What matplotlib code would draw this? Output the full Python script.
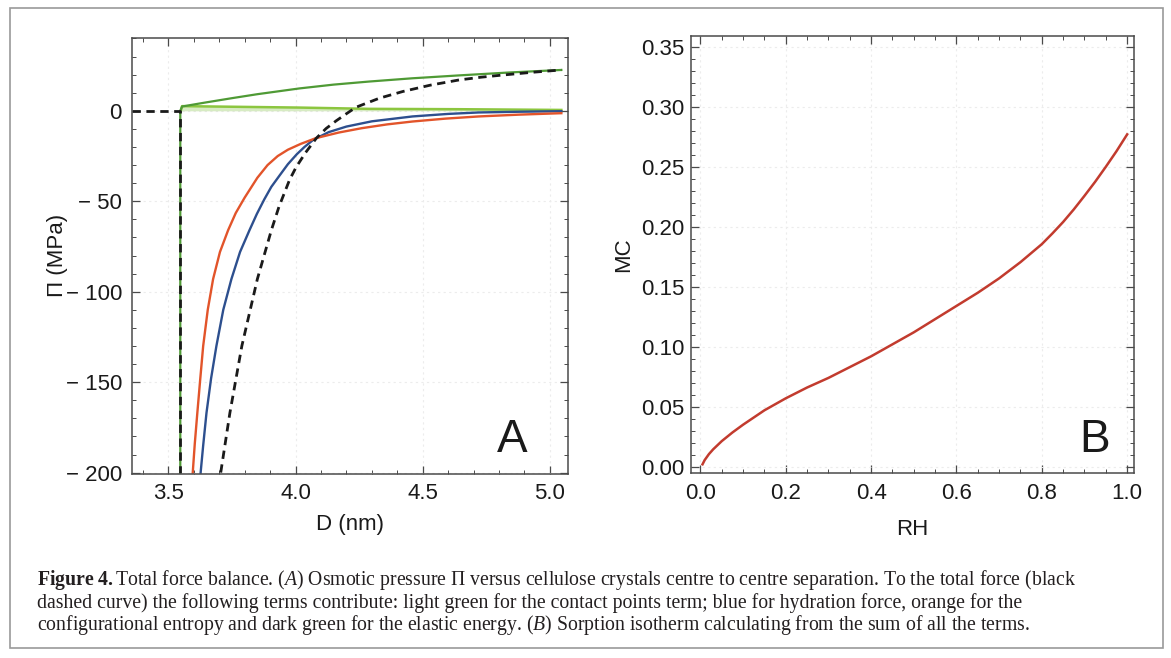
import numpy as np
import matplotlib
matplotlib.use("Agg")
import matplotlib.pyplot as plt
from matplotlib.ticker import MultipleLocator, FixedLocator, FuncFormatter
from matplotlib.patches import Rectangle

# ---------------- data (panel A) ----------------
hyd_D = [3.627, 3.637, 3.650, 3.668, 3.689, 3.716, 3.748, 3.782, 3.819, 3.848, 3.877, 3.905,
         3.936, 3.970, 4.005, 4.035, 4.070, 4.130, 4.200, 4.300, 4.460, 4.600, 4.720, 4.880, 5.045]
hyd_P = [-200, -185, -167, -148, -130, -110, -93, -78, -66, -57, -49, -42,
         -36, -29.5, -24, -20, -16, -11.8, -8.7, -5.8, -3.1, -1.7, -0.9, -0.5, -0.2]

ent_D = [3.596, 3.604, 3.614, 3.625, 3.637, 3.655, 3.676, 3.703, 3.735, 3.765, 3.800, 3.850,
         3.890, 3.930, 3.970, 4.020, 4.080, 4.170, 4.260, 4.360, 4.460, 4.590, 4.720, 4.880, 5.045]
ent_P = [-200, -184, -167, -149, -130, -110, -93, -78, -66, -56.5, -48, -37,
         -30, -25, -21.5, -18.3, -15.1, -12, -9.6, -7.5, -5.9, -4.3, -3.1, -2.1, -1.3]

tot_left_D = [3.356, 3.547, 3.547]
tot_left_P = [0, 0, -200]
tot_D = [3.706, 3.742, 3.789, 3.850, 3.905, 3.935, 3.977, 4.003, 4.040, 4.082, 4.120, 4.160,
         4.200, 4.238, 4.330, 4.422, 4.530, 4.644, 4.730, 4.815, 4.930, 5.045]
tot_P = [-200, -167, -130, -93, -66, -53, -38, -31, -23, -15.1, -9.8, -5.5,
         -1.6, 2.0, 7.0, 10.7, 14.2, 17.1, 18.6, 19.8, 21.3, 22.6]

ela_D = [3.547, 3.547, 3.554, 3.650, 3.750, 3.850, 4.016, 4.150, 4.290, 4.460, 4.644, 4.840, 5.045]
ela_P = [-200, 0, 2.4, 4.7, 7.0, 9.2, 12.4, 14.5, 16.2, 18.0, 19.6, 21.2, 22.6]

con_D = [3.549, 3.554, 4.016, 4.290, 4.644, 5.045]
con_P = [0, 2.6, 1.8, 1.1, 0.9, 0.5]

# ---------------- data (panel B) ----------------
RH = [0.005, 0.01, 0.02, 0.03, 0.05, 0.075, 0.1, 0.15, 0.2, 0.25, 0.3, 0.35, 0.4, 0.45, 0.5,
      0.55, 0.6, 0.65, 0.7, 0.75, 0.8, 0.825, 0.85, 0.875, 0.9, 0.925, 0.95, 0.975, 1.0]
MC = [0.002, 0.0055, 0.0105, 0.0145, 0.0213, 0.0285, 0.035, 0.047, 0.057, 0.066, 0.074,
      0.083, 0.092, 0.102, 0.112, 0.123, 0.134, 0.145, 0.157, 0.1705, 0.1855, 0.1945,
      0.204, 0.2145, 0.2258, 0.2375, 0.250, 0.263, 0.277]

A_xticks = [3.5, 4.0, 4.5, 5.0]
A_yticks = [0, -50, -100, -150, -200]
B_xticks = [0.0, 0.2, 0.4, 0.6, 0.8, 1.0]
B_yticks = [0.00, 0.05, 0.10, 0.15, 0.20, 0.25, 0.30, 0.35]

caption_lines = [
    r"$\mathbf{Figure\ 4.}$Total force balance. ($\mathit{A}$) Osmotic pressure Π versus cellulose crystals centre to centre separation. To the total force (black",
    "dashed curve) the following terms contribute: light green for the contact points term; blue for hydration force, orange for the",
    r"configurational entropy and dark green for the elastic energy. ($\mathit{B}$) Sorption isotherm calculating from the sum of all the terms.",
]

# ---------------- style ----------------
plt.rcParams['font.family'] = ['Liberation Sans', 'DejaVu Sans']
plt.rcParams['mathtext.fontset'] = 'custom'
plt.rcParams['mathtext.rm'] = 'Liberation Serif'
plt.rcParams['mathtext.it'] = 'Liberation Serif:italic'
plt.rcParams['mathtext.bf'] = 'Liberation Serif:bold'

W, H = 1171, 658
fig = plt.figure(figsize=(W / 100, H / 100), dpi=100)
fig.patch.set_facecolor('white')

def px_axes(x0, y0, x1, y1):
    return fig.add_axes([x0 / W, 1 - y1 / H, (x1 - x0) / W, (y1 - y0) / H])

axA = px_axes(131.7, 38.3, 567.7, 473.5)
axB = px_axes(691, 36, 1134, 473.3)

frame_col = '#4a4a4a'
tick_fs = 16

def style_axes(ax):
    for s in ax.spines.values():
        s.set_color(frame_col)
        s.set_linewidth(1.1)
    ax.tick_params(which='both', direction='in', top=True, right=True,
                   colors=frame_col, labelcolor='#1a1a1a', labelsize=tick_fs)
    ax.tick_params(which='major', length=6, width=0.9)
    ax.tick_params(which='minor', length=3, width=0.7)
    ax.grid(True, which='major', color='#ececec', linestyle=(0, (2, 3)), linewidth=0.8)
    ax.set_axisbelow(True)

# ---------- panel A ----------
style_axes(axA)
axA.fill_between(con_D, con_P, 0, color='#a8d47a', alpha=0.45, linewidth=0)
axA.plot(con_D, con_P, color='#8cc63f', lw=1.8)
axA.plot(ela_D, ela_P, color='#4f9a35', lw=1.6)
axA.plot(hyd_D, hyd_P, color='#2d4f8e', lw=1.7)
axA.plot(ent_D, ent_P, color='#e2542a', lw=1.7)
axA.plot(tot_left_D, tot_left_P, color='#1a1a1a', lw=2.0, linestyle=(0, (3, 2)))
axA.plot(tot_D, tot_P, color='#1a1a1a', lw=2.0, linestyle=(0, (3, 2)))
axA.set_xlim(3.356, 5.070)
axA.set_ylim(-200.5, 40.1)
axA.xaxis.set_major_locator(FixedLocator(A_xticks))
axA.xaxis.set_minor_locator(MultipleLocator(0.1))
axA.yaxis.set_major_locator(FixedLocator(A_yticks))
axA.yaxis.set_minor_locator(MultipleLocator(10))
axA.xaxis.set_major_formatter(FuncFormatter(lambda v, p: f"{v:.1f}"))
axA.yaxis.set_major_formatter(FuncFormatter(lambda v, p: ("\u2212 " + f"{abs(v):.0f}") if v < 0 else f"{v:.0f}"))
axA.tick_params(axis='x', pad=7)
axA.tick_params(axis='y', pad=7)
axA.set_xlabel("D (nm)", fontsize=16, color='#1a1a1a', labelpad=7)
axA.set_ylabel("Π (MPa)", fontsize=16, color='#1a1a1a', labelpad=-2)
axA.text(0.872, 0.077, "A", transform=axA.transAxes, fontsize=33,
         ha='center', va='center', color='#1a1a1a')

# ---------- panel B ----------
style_axes(axB)
axB.plot(RH, MC, color='#c23b2e', lw=1.8)
axB.set_xlim(-0.022, 1.016)
axB.set_ylim(-0.0055, 0.359)
axB.xaxis.set_major_locator(FixedLocator(B_xticks))
axB.xaxis.set_minor_locator(MultipleLocator(0.05))
axB.yaxis.set_major_locator(FixedLocator(B_yticks))
axB.yaxis.set_minor_locator(MultipleLocator(0.01))
axB.xaxis.set_major_formatter(FuncFormatter(lambda v, p: f"{v:.1f}"))
axB.yaxis.set_major_formatter(FuncFormatter(lambda v, p: f"{v:.2f}"))
axB.tick_params(axis='x', pad=7)
axB.tick_params(axis='y', pad=5)
axB.set_xlabel("RH", fontsize=16, color='#1a1a1a', labelpad=11)
axB.set_ylabel("MC", fontsize=16, color='#1a1a1a', labelpad=5)
axB.text(0.910, 0.076, "B", transform=axB.transAxes, fontsize=33,
         ha='center', va='center', color='#1a1a1a')

# ---------- outer frame ----------
fig.patches.append(Rectangle((10 / W, 1 - 648 / H), (1163 - 10) / W, (648 - 8) / H,
                             transform=fig.transFigure, fill=False,
                             edgecolor='#9a9a9a', linewidth=1.2))

# ---------- caption ----------
renderer = fig.canvas.get_renderer()
base_fs = 12
probe = fig.text(0, 0, caption_lines[0], fontsize=base_fs, family='Liberation Serif')
wpx = probe.get_window_extent(renderer).width
probe.remove()
cap_fs = base_fs * (1040 / wpx)
cap_y = [580, 603, 625]
for line, yy in zip(caption_lines, cap_y):
    fig.text(37 / W, 1 - yy / H, line, fontsize=cap_fs, family='Liberation Serif',
             color='#231f20', ha='left', va='center')

fig.savefig("out.png", dpi=100, facecolor='white')
